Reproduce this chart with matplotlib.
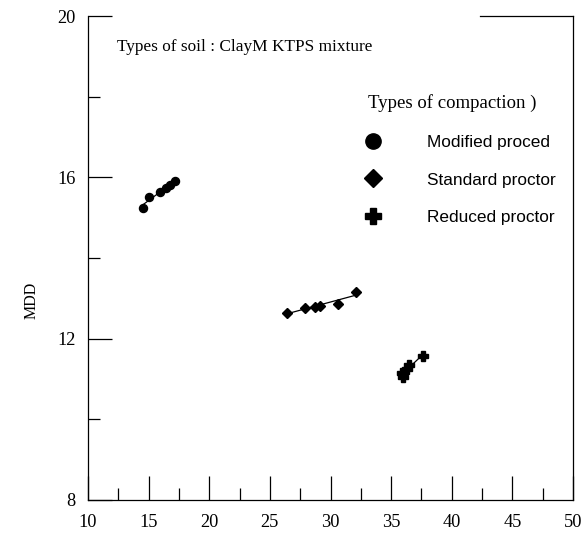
import numpy as np
import matplotlib
matplotlib.use("Agg")
import matplotlib.pyplot as plt
from matplotlib.lines import Line2D
from matplotlib.ticker import MultipleLocator

# Data
mod_x = [14.5, 15.0, 15.9, 16.4, 16.8, 17.2]
mod_y = [15.24, 15.51, 15.64, 15.74, 15.81, 15.91]
std_x = [26.4, 27.9, 28.7, 29.1, 30.6, 32.1]
std_y = [12.64, 12.77, 12.79, 12.81, 12.86, 13.16]
red_x = [35.9, 36.0, 36.3, 36.5, 37.6]
red_y = [11.15, 11.05, 11.25, 11.35, 11.58]
labels = ["Modified proced", "Standard proctor", "Reduced proctor"]
legend_title = "Types of compaction )"
note = "Types of soil : ClayM KTPS mixture"
ylabel = "MDD"

serif = "Liberation Serif"
sans = "Liberation Sans"

fig = plt.figure(figsize=(5.84, 5.33), dpi=100)
ax = fig.add_axes([88/584, 1-500/533, (573-88)/584, (500-16)/533])

def trend(x, y):
    p = np.polyfit(x, y, 1)
    xx = np.array([min(x), max(x)])
    ax.plot(xx, np.polyval(p, xx), color="black", lw=0.9, zorder=2)

trend(mod_x, mod_y)
trend(std_x, std_y)
trend(red_x, red_y)
ax.plot(mod_x, mod_y, "o", color="black", ms=5.8, zorder=3, ls="none")
ax.plot(std_x, std_y, "D", color="black", ms=5.5, zorder=3, ls="none")
ax.plot(red_x, red_y, "P", color="black", ms=7, zorder=3, ls="none")

ax.set_xlim(10, 50)
ax.set_ylim(8, 20)
ax.xaxis.set_major_locator(MultipleLocator(5))
ax.xaxis.set_minor_locator(MultipleLocator(2.5))
ax.yaxis.set_major_locator(MultipleLocator(4))
ax.yaxis.set_minor_locator(MultipleLocator(2))
ax.tick_params(which="major", direction="in", length=17, width=0.9, labelsize=13.2)
ax.tick_params(which="minor", direction="in", length=8.5, width=0.9)
ax.tick_params(axis="y", pad=9)
ax.tick_params(axis="x", pad=10)
for lab in ax.get_xticklabels() + ax.get_yticklabels():
    lab.set_fontfamily(serif)

for s in ["left", "bottom", "right", "top"]:
    ax.spines[s].set_linewidth(0.9)
ax.spines["top"].set_bounds(42.3, 50)

ax.set_ylabel(ylabel, fontfamily=serif, fontsize=11.5)
ax.yaxis.set_label_coords(-(88-40)/485, (500-300)/484)

fig.text(117/584, 1-47/533, note, fontsize=12.4, fontfamily=serif, va="center", ha="left")
fig.text(368/584, 1-103/533, legend_title, fontsize=13.5, fontfamily=serif, va="center", ha="left")

handles = [
    Line2D([], [], marker="o", color="black", ls="none", ms=11),
    Line2D([], [], marker="D", color="black", ls="none", ms=9.5),
    Line2D([], [], marker="P", color="black", ls="none", ms=11),
]
ax.legend(handles, labels, loc="upper left",
          bbox_to_anchor=(356/584, 1-135/533), bbox_transform=fig.transFigure,
          frameon=False, prop={"family": sans, "size": 12.4},
          labelspacing=1.3, handletextpad=2.1, handlelength=2.0,
          borderpad=0, borderaxespad=0)

fig.savefig("out.png", dpi=100)
